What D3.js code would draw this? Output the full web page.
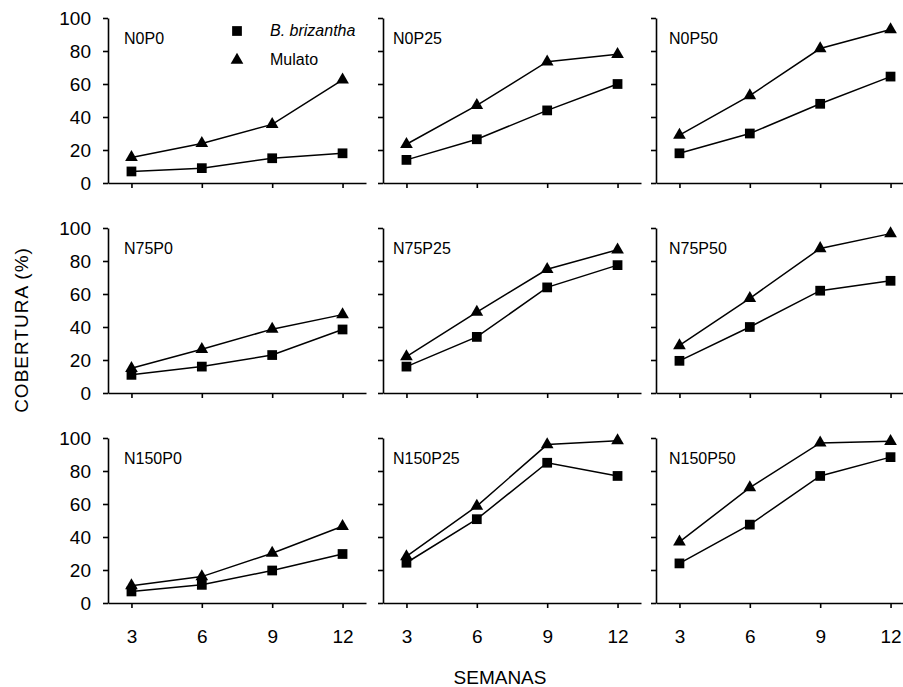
<!DOCTYPE html>
<html>
<head>
<meta charset="utf-8">
<script src="https://cdn.jsdelivr.net/npm/d3@7"></script>
<style>
  body { margin: 0; background: #fff; }
  text { font-family: "Liberation Sans", Arial, sans-serif; fill: #000; }
</style>
</head>
<body>
<div id="chart"></div>
<script>
// data
const weeks = [3, 6, 9, 12];
const yTicks = [0, 20, 40, 60, 80, 100];
const treatments = ["N0P0", "N0P25", "N0P50", "N75P0", "N75P25", "N75P50", "N150P0", "N150P25", "N150P50"];
const brizantha = [
  [7, 9, 15, 18], [14, 26.5, 44, 60], [18, 30, 48, 64.5],
  [11, 16, 23, 38.5], [16, 34, 64, 77.5], [19.5, 40, 62, 68],
  [7, 11, 19.7, 29.7], [24.4, 50.8, 85, 77], [24, 47.5, 77, 88.4]
];
const mulato = [
  [15.5, 24, 35.5, 62.5], [23.5, 47, 73.5, 78], [29, 53, 81.5, 93],
  [15, 26.5, 38.7, 47.5], [22, 49, 75, 86.8], [28.8, 57.4, 87.6, 96.6],
  [10.5, 16, 30.2, 46.5], [28.2, 58.7, 96, 98.4], [37, 69.9, 97, 98]
];
const seriesNames = ["B. brizantha", "Mulato"];

//layout
const width = 903, height = 687;
const colX = [108, 383, 656];
const rowY = [18, 228, 438];
const pw = 258, ph = 165;
const labelDx = [16, 10, 13];

const svg = d3.select("#chart").append("svg")
  .attr("width", width)
  .attr("height", height);

const squareSym = d3.symbol().type(d3.symbolSquare).size(95);
const triSym = d3.symbol().type(d3.symbolTriangle).size(70);

treatments.forEach(function(t, i) {
  const r = Math.floor(i / 3), c = i % 3;
  const x = d3.scaleLinear().domain([2, 13]).range([0, pw]);
  const y = d3.scaleLinear().domain([0, 100]).range([ph, 0]);

  const g = svg.append("g")
    .attr("transform", "translate(" + colX[c] + "," + rowY[r] + ")");

  // x axis
  const xa = g.append("g")
    .attr("transform", "translate(0," + ph + ")")
    .call(d3.axisBottom(x).tickValues(weeks).tickSize(5).tickSizeOuter(0).tickPadding(22));
  xa.selectAll("text").attr("font-size", "19px");
  if (r < 2) xa.selectAll("text").remove();

  // y axis
  const ya = g.append("g")
    .call(d3.axisLeft(y).tickValues(yTicks).tickSize(5).tickSizeOuter(0).tickPadding(12));
  ya.selectAll("text").attr("font-size", "19px");
  if (c > 0) ya.selectAll("text").remove();

  g.selectAll(".domain, .tick line").attr("stroke", "#000").attr("stroke-width", 1.6);
  g.selectAll("text").attr("font-family", "Liberation Sans, Arial, sans-serif");

  const line = d3.line()
    .x((d, j) => x(weeks[j]))
    .y(d => y(d));

  [brizantha[i], mulato[i]].forEach(function(vals, s) {
    g.append("path")
      .datum(vals)
      .attr("fill", "none")
      .attr("stroke", "#000")
      .attr("stroke-width", 1.5)
      .attr("d", line);

    g.selectAll(".m" + s)
      .data(vals)
      .join("path")
      .attr("class", "m" + s)
      .attr("transform", (d, j) => "translate(" + x(weeks[j]) + "," + y(d) + ")")
      .attr("d", s == 0 ? squareSym : triSym)
      .attr("fill", "#000");
  });

  g.append("text")
    .attr("x", labelDx[c])
    .attr("y", 26)
    .attr("font-size", "16px")
    .text(t);
});

// legend
const legend = svg.append("g").attr("transform", "translate(237,0)");
seriesNames.forEach(function(n, s) {
  const ly = s == 0 ? 31 : 60;
  legend.append("path")
    .attr("transform", "translate(0," + ly + ")")
    .attr("d", s == 0 ? squareSym : triSym)
    .attr("fill", "#000");
  legend.append("text")
    .attr("x", 33)
    .attr("y", ly + 5)
    .attr("font-size", "16px")
    .attr("font-style", s == 0 ? "italic" : "normal")
    .text(n);
});

// axis titles
svg.append("text")
  .attr("x", 500)
  .attr("y", 684)
  .attr("text-anchor", "middle")
  .attr("font-size", "19px")
  .text("SEMANAS");

svg.append("text")
  .attr("transform", "translate(28,330) rotate(-90)")
  .attr("text-anchor", "middle")
  .attr("font-size", "19px")
  .attr("letter-spacing", "1px")
  .text("COBERTURA (%)");
</script>
</body>
</html>
